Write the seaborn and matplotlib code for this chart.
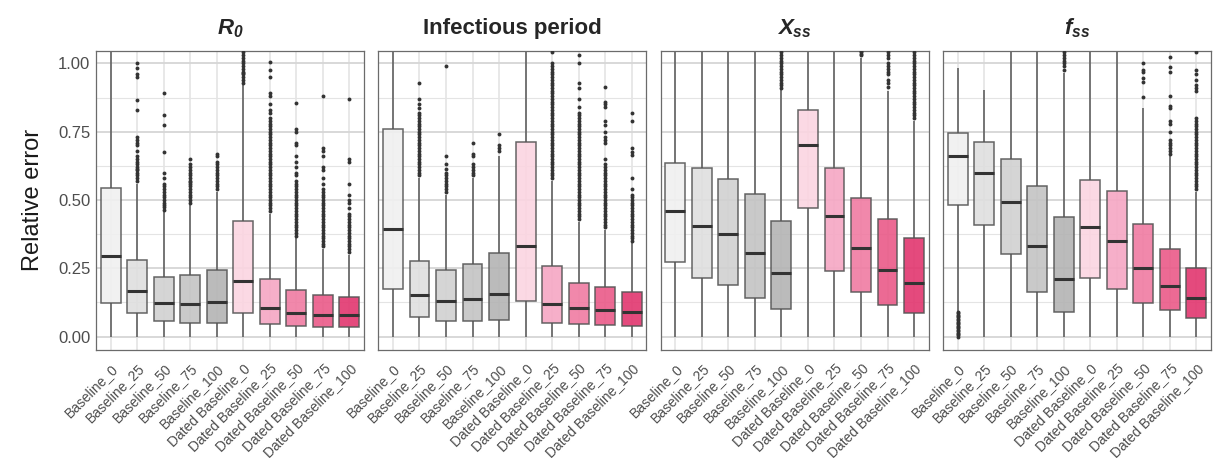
import pandas as pd
import matplotlib.pyplot as plt
from matplotlib.ticker import MultipleLocator
import seaborn as sns

# Categories (x axis of every panel)
categories = ["Baseline_0", "Baseline_25", "Baseline_50", "Baseline_75", "Baseline_100",
              "Dated Baseline_0", "Dated Baseline_25", "Dated Baseline_50",
              "Dated Baseline_75", "Dated Baseline_100"]
panels = ["R0", "Infectious period", "Xss", "fss"]
titles = [r"$R_0$", "Infectious period", r"$X_{ss}$", r"$f_{ss}$"]

# Box summaries: whisker low, Q1, median, Q3, whisker high
r0_low = [0, 0, 0, 0, 0, 0, 0, 0, 0, 0]
r0_q1 = [.124, .085, .057, .049, .049, .085, .045, .039, .037, .037]
r0_med = [.295, .168, .122, .120, .128, .204, .106, .085, .080, .078]
r0_q3 = [.543, .280, .220, .224, .244, .423, .211, .171, .151, .145]
r0_high = [1.2, .56, .455, .48, .53, .92, .45, .36, .32, .30]

ip_low = [0, 0, 0, 0, 0, 0, 0, 0, 0, 0]
ip_q1 = [.174, .071, .056, .056, .061, .130, .051, .046, .041, .039]
ip_med = [.393, .152, .130, .139, .155, .333, .121, .104, .096, .090]
ip_q3 = [.759, .276, .243, .266, .305, .713, .260, .198, .180, .162]
ip_high = [1.2, .58, .52, .58, .66, 1.2, .57, .42, .39, .345]

xss_low = [0, 0, 0, 0, 0, 0, 0, 0, 0, 0]
xss_q1 = [.273, .213, .189, .143, .101, .472, .239, .162, .115, .085]
xss_med = [.460, .404, .376, .307, .233, .702, .440, .324, .244, .196]
xss_q3 = [.634, .618, .578, .521, .423, .829, .616, .509, .429, .361]
xss_high = [1.2, 1.2, 1.2, 1.2, .905, 1.2, 1.2, 1.02, .90, .79]

fss_low = [.095, 0, 0, 0, 0, 0, 0, 0, 0, 0]
fss_q1 = [.483, .410, .301, .163, .091, .215, .176, .122, .098, .067]
fss_med = [.661, .600, .493, .332, .211, .401, .351, .252, .187, .143]
fss_q3 = [.745, .711, .649, .552, .437, .574, .533, .413, .320, .252]
fss_high = [.982, .902, 1.2, 1.2, .966, 1.2, 1.2, .835, .66, .53]

# Outlying points, one list per category
r0_out = [
    [],
    [.57, .58, .59, .60, .61, .615, .62, .63, .64, .65, .66, .68, .70, .71, .72, .73, .83, .865, .95, .96, .985, 1.0],
    [.465, .475, .48, .49, .50, .51, .52, .53, .54, .55, .56, .58, .60, .675, .775, .81, .89],
    [.49, .50, .51, .52, .53, .54, .55, .56, .565, .57, .58, .59, .60, .61, .62, .63, .65],
    [.54, .55, .56, .57, .58, .59, .60, .61, .62, .63, .64, .66, .67],
    [.93, .94, .95, .96, .965, .97, .98, .99, 1.0, 1.01, 1.02, 1.03, 1.04],
    [.46, .47, .48, .49, .50, .51, .52, .53, .54, .55, .56, .57, .58, .59, .60, .61, .62, .63,
     .64, .65, .66, .67, .68, .69, .70, .71, .72, .73, .74, .75, .76, .77, .78, .79, .80,
     .82, .83, .85, .88, .89, .95, .975, 1.005],
    [.37, .38, .39, .40, .41, .42, .43, .44, .45, .46, .47, .48, .49, .50, .51, .52, .53, .54,
     .55, .56, .57, .59, .60, .62, .64, .66, .70, .71, .75, .76, .855],
    [.33, .34, .35, .36, .37, .38, .39, .40, .41, .42, .43, .44, .45, .46, .47, .48, .49, .50,
     .51, .52, .53, .54, .56, .58, .61, .62, .66, .68, .69, .88],
    [.31, .32, .33, .34, .35, .36, .37, .38, .39, .40, .41, .42, .43, .44, .45, .47, .49, .50,
     .52, .56, .64, .65, .87],
]
ip_out = [
    [],
    [.59, .60, .61, .62, .63, .64, .65, .66, .67, .68, .69, .70, .71, .72, .73, .74, .75, .76,
     .77, .78, .79, .80, .81, .82, .835, .85, .87, .93],
    [.53, .54, .55, .56, .57, .58, .59, .60, .615, .63, .66, .99],
    [.59, .60, .61, .62, .63, .66, .67, .71],
    [.68, .69, .70, .74],
    [],
    [.58, .59, .60, .61, .62, .63, .64, .65, .66, .67, .68, .69, .70, .71, .72, .73, .74, .75,
     .76, .77, .78, .79, .80, .81, .82, .83, .84, .85, .86, .87, .88, .89, .90, .91, .92, .93,
     .94, .95, .96, .97, .98, .99, 1.0, 1.04],
    [.43, .44, .45, .46, .47, .48, .49, .50, .51, .52, .53, .54, .55, .56, .57, .58, .59, .60,
     .61, .62, .63, .64, .65, .66, .67, .68, .69, .70, .71, .72, .73, .74, .75, .76, .77, .78,
     .79, .80, .81, .82, .84, .87, .91, .93, 1.0, 1.03],
    [.40, .41, .42, .43, .44, .45, .46, .47, .48, .49, .50, .51, .52, .53, .54, .55, .56, .57,
     .58, .59, .60, .61, .62, .63, .65, .71, .72, .73, .75, .775, .79, .84, .85, .86, .915],
    [.35, .36, .37, .38, .39, .40, .41, .42, .43, .44, .45, .46, .47, .48, .49, .50, .51, .52,
     .54, .58, .665, .675, .69, .79, .82],
]
xss_out = [
    [], [], [], [],
    [.91, .92, .93, .94, .95, .96, .97, .98, .99, 1.0, 1.01, 1.02, 1.03, 1.04],
    [], [],
    [1.03, 1.035, 1.04, 1.045],
    [.915, .93, .94, .96, .97, .98, .99, 1.0, 1.02, 1.03, 1.04],
    [.80, .81, .82, .83, .84, .85, .86, .87, .88, .89, .90, .91, .92, .93, .94, .95, .96, .97,
     .98, .99, 1.0, 1.01, 1.02, 1.03, 1.04],
]
fss_out = [
    [0, .005, .01, .015, .02, .025, .03, .035, .04, .045, .05, .055, .06, .065, .07, .075, .08, .085, .09],
    [], [], [],
    [.975, .99, 1.0, 1.01, 1.02, 1.03, 1.04],
    [], [],
    [.878, .933, .945, .97, .975, 1.0],
    [.67, .68, .69, .70, .71, .72, .75, .78, .79, .835, .845, .88, .97, .988, 1.024],
    [.54, .55, .56, .57, .58, .59, .60, .61, .62, .63, .64, .65, .66, .67, .68, .69, .70, .71,
     .72, .73, .74, .75, .76, .77, .78, .79, .80, .90, .91, .92, .94, .96, .975, 1.04],
]

box_colors = ["#f0f0f0", "#dfdfdf", "#d1d1d1", "#c3c3c3", "#b4b4b4",
              "#fbd5e1", "#f6a7c4", "#f07ba2", "#ea5a88", "#e2366f"]

summaries = {
    "R0": (r0_low, r0_q1, r0_med, r0_q3, r0_high, r0_out),
    "Infectious period": (ip_low, ip_q1, ip_med, ip_q3, ip_high, ip_out),
    "Xss": (xss_low, xss_q1, xss_med, xss_q3, xss_high, xss_out),
    "fss": (fss_low, fss_q1, fss_med, fss_q3, fss_high, fss_out),
}

box_rows, out_rows = [], []
for panel, (lo, q1, med, q3, hi, outs) in summaries.items():
    for i, cat in enumerate(categories):
        for v in (lo[i], q1[i], med[i], q3[i], hi[i]):
            box_rows.append((panel, cat, v))
        for v in outs[i]:
            out_rows.append((panel, cat, v))
box_df = pd.DataFrame(box_rows, columns=["panel", "category", "value"])
out_df = pd.DataFrame(out_rows, columns=["panel", "category", "value"])

sns.set_theme(style="white")
plt.rcParams["font.family"] = ["Liberation Sans", "DejaVu Sans"]
plt.rcParams["mathtext.fontset"] = "custom"
plt.rcParams["mathtext.it"] = "Liberation Sans:italic:bold"
plt.rcParams["mathtext.rm"] = "Liberation Sans:italic:bold"
plt.rcParams["mathtext.bf"] = "Liberation Sans:italic:bold"

fig, axes = plt.subplots(1, 4, figsize=(12.14, 4.58), dpi=100, sharey=True)
fig.subplots_adjust(left=0.0791, right=0.9975, bottom=0.2358, top=0.889, wspace=0.0535)

for ax, panel, title in zip(axes, panels, titles):
    sns.boxplot(data=box_df[box_df.panel == panel], x="category", y="value",
                hue="category", order=categories, hue_order=categories,
                palette=box_colors, saturation=1, whis=(0, 100), width=0.75,
                showcaps=False, showfliers=False, linecolor="#555555", linewidth=1.1,
                boxprops=dict(alpha=0.9),
                medianprops=dict(color="#333333", linewidth=2.2),
                legend=False, ax=ax)
    sns.stripplot(data=out_df[out_df.panel == panel], x="category", y="value",
                  order=categories, jitter=False, color="#333333", size=2.8,
                  linewidth=0, ax=ax)

    ax.set_xlim(-0.55, 9.55)
    ax.set_ylim(-0.049, 1.046)
    ax.set_yticks([0, 0.25, 0.5, 0.75, 1.0])
    ax.set_yticklabels(["0.00", "0.25", "0.50", "0.75", "1.00"])
    ax.yaxis.set_minor_locator(MultipleLocator(0.125))
    ax.set_axisbelow(True)
    ax.grid(which="major", axis="y", color="#d6d6d6", linewidth=1.3)
    ax.grid(which="minor", axis="y", color="#e4e4e4", linewidth=0.8)
    ax.grid(which="major", axis="x", color="#e8e8e8", linewidth=1.4)
    ax.tick_params(which="both", length=0)
    ax.tick_params(axis="y", labelsize=12, labelcolor="#4d4d4d", pad=4)
    ax.tick_params(axis="x", labelsize=10, labelcolor="#4d4d4d", pad=8)
    plt.setp(ax.get_xticklabels(), rotation=45, ha="right", rotation_mode="anchor")
    for s in ax.spines.values():
        s.set_visible(True)
        s.set_color("#6b6b6b")
        s.set_linewidth(0.9)
    ax.set_xlabel("")
    ax.set_ylabel("")
    ax.set_title(title, fontsize=16, fontweight="bold", pad=12)

axes[0].set_ylabel("Relative error", fontsize=17, color="#1a1a1a", labelpad=10)

plt.savefig("out.png", dpi=100)
